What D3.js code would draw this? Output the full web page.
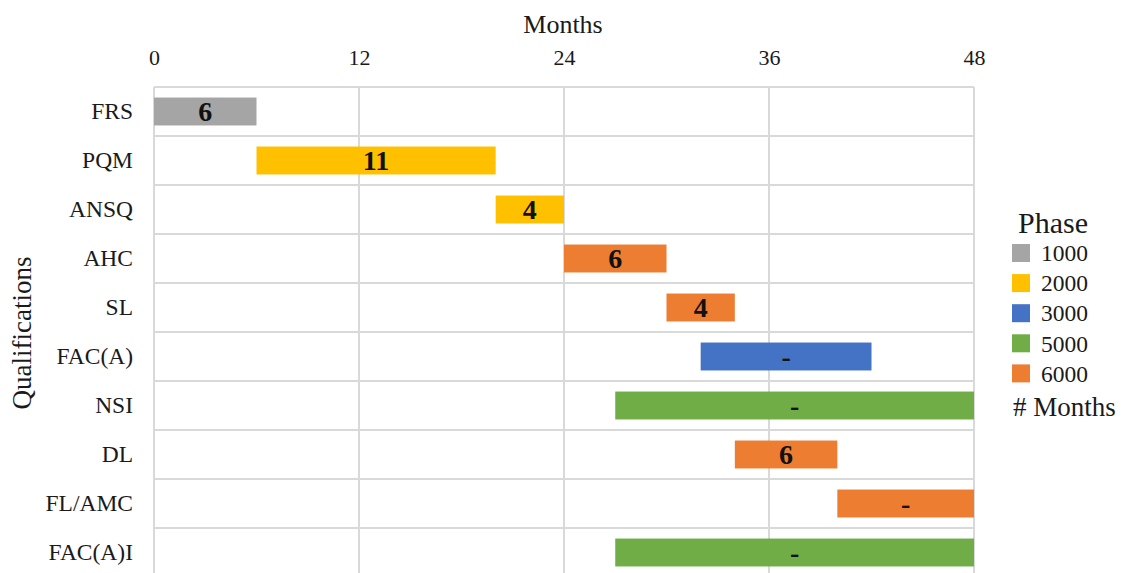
<!DOCTYPE html>
<html><head><meta charset="utf-8">
<script src="https://cdn.jsdelivr.net/npm/d3@7"></script>
<style>body{margin:0;background:#fff}svg{display:block;font-family:"Liberation Serif","Times New Roman",serif}</style>
</head><body>
<svg id="c" width="1122" height="573"></svg>
<script>
const categories = ["FRS","PQM","ANSQ","AHC","SL","FAC(A)","NSI","DL","FL/AMC","FAC(A)I"];
const startMonths = [0, 6, 20, 24, 30, 32, 27, 34, 40, 27];
const endMonths   = [6, 20, 24, 30, 34, 42, 48, 40, 48, 48];
const phases      = ["1000","2000","2000","6000","6000","3000","5000","6000","6000","5000"];
const barLabels   = ["6","11","4","6","4","-","-","6","-","-"];
const xTicks = [0, 12, 24, 36, 48];
const legendPhases = ["1000","2000","3000","5000","6000"];
const phaseColors  = ["#A5A5A5","#FFC000","#4472C4","#70AD47","#ED7D31"];

const svg = d3.select("#c");
const x = d3.scaleLinear().domain([0,48]).range([154,974]);
const y = d3.scaleBand().domain(categories).range([87,577]).paddingInner(0.43).paddingOuter(0.215);
const color = d3.scaleOrdinal().domain(legendPhases).range(phaseColors);
const step = y.step();
const grid = "#d9d9d9";
const txt = "#1a1a1a";

// horizontal grid lines at row boundaries
const g = svg.append("g");
g.selectAll("line.h").data(d3.range(categories.length+1)).join("line")
  .attr("x1", x(0)).attr("x2", x(48))
  .attr("y1", i => 87 + i*step).attr("y2", i => 87 + i*step)
  .attr("stroke", grid).attr("stroke-width", 2);
// vertical grid lines
g.selectAll("line.v").data(xTicks).join("line")
  .attr("x1", d => x(d)).attr("x2", d => x(d))
  .attr("y1", 87).attr("y2", 577)
  .attr("stroke", grid).attr("stroke-width", 2);

// top axis
const ax = svg.append("g").attr("transform","translate(0,65)")
  .call(d3.axisTop(x).tickValues(xTicks).tickSize(0).tickPadding(0));
ax.select(".domain").remove();
ax.selectAll("text").attr("font-family","Liberation Serif").attr("font-size",22).attr("fill",txt).attr("dy",0);

// left axis
const ay = svg.append("g").attr("transform","translate(133,0)")
  .call(d3.axisLeft(y).tickSize(0).tickPadding(0));
ay.select(".domain").remove();
ay.selectAll("text").attr("font-family","Liberation Serif").attr("font-size",23.5).attr("fill",txt);

// bars
const rows = categories.map((c,i)=>({c, s:startMonths[i], e:endMonths[i], p:phases[i], l:barLabels[i]}));
svg.append("g").selectAll("rect").data(rows).join("rect")
  .attr("x", d => x(d.s)).attr("width", d => x(d.e)-x(d.s))
  .attr("y", d => y(d.c)).attr("height", y.bandwidth())
  .attr("fill", d => color(d.p));
svg.append("g").selectAll("text").data(rows).join("text")
  .attr("x", d => x((d.s+d.e)/2)).attr("y", d => y(d.c)+y.bandwidth()/2)
  .attr("dy","0.35em").attr("text-anchor","middle")
  .attr("font-weight","bold").attr("font-size",28).attr("fill","#111")
  .text(d => d.l);

// titles
svg.append("text").attr("x",563).attr("y",33).attr("text-anchor","middle")
  .attr("font-size",26).attr("fill",txt).text("Months");
svg.append("text").attr("transform","translate(31,333) rotate(-90)").attr("text-anchor","middle")
  .attr("font-size",27).attr("fill",txt).text("Qualifications");

// legend
const lg = svg.append("g");
lg.append("text").attr("x",1053).attr("y",233).attr("text-anchor","middle")
  .attr("font-size",30).attr("fill",txt).text("Phase");
const li = lg.selectAll("g.item").data(legendPhases).join("g")
  .attr("transform",(d,i)=>`translate(1012,${253 + i*30.1})`);
li.append("rect").attr("x",0).attr("y",-9).attr("width",18).attr("height",18).attr("fill",d=>color(d));
li.append("text").attr("x",29).attr("dy","0.35em").attr("font-size",23.5).attr("fill",txt).text(d=>d);
lg.append("text").attr("x",1013).attr("y",407).attr("dy","0.35em")
  .attr("font-size",27).attr("fill",txt).text("# Months");
</script>
</body></html>
